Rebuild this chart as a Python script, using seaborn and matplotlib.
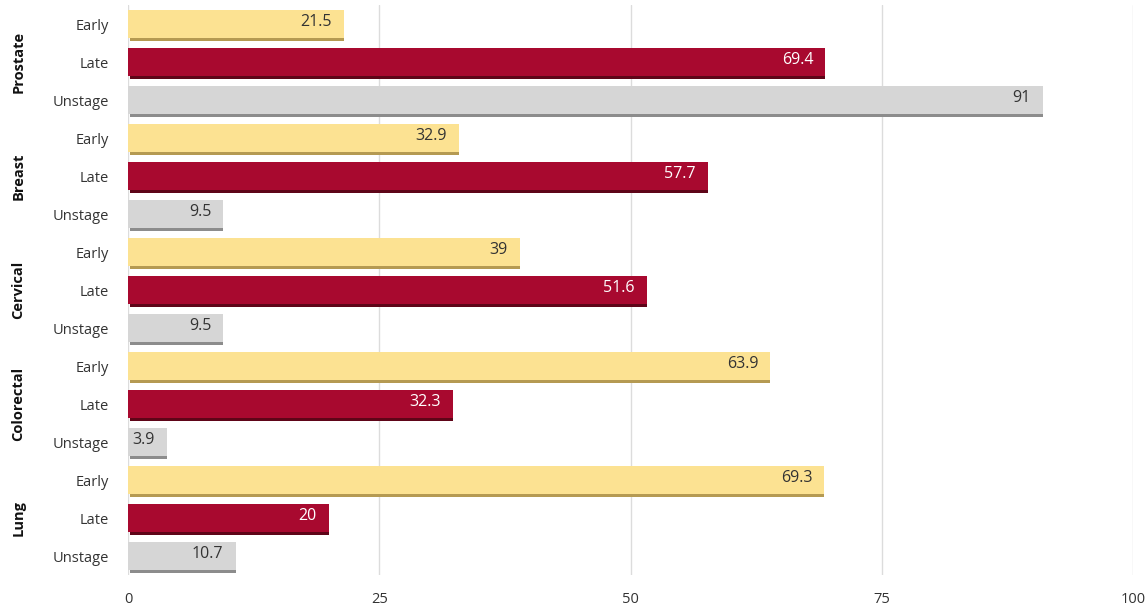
import matplotlib
matplotlib.use("Agg")
import matplotlib.pyplot as plt
import seaborn as sns
import pandas as pd
import numpy as np

cancers = ["Prostate", "Breast", "Cervical", "Colorectal", "Lung"]
stages = ["Early", "Late", "Unstage"]
early = [21.5, 32.9, 39, 63.9, 69.3]
late = [69.4, 57.7, 51.6, 32.3, 20]
unstage = [91, 9.5, 9.5, 3.9, 10.7]
x_ticks = [0, 25, 50, 75, 100]

colors = {"Early": "#FCE292", "Late": "#A8092F", "Unstage": "#D6D6D6"}
shadow = {"Early": "#B59A52", "Late": "#5E0518", "Unstage": "#8C8C8C"}
text_col = {"Early": "#333333", "Late": "#FFFFFF", "Unstage": "#333333"}

rows = []
for i, c in enumerate(cancers):
    for s, vals in zip(stages, [early, late, unstage]):
        rows.append({"row": f"{c}|{s}", "cancer": c, "stage": s, "value": vals[i]})
df = pd.DataFrame(rows)
order = list(df["row"])

sns.set_style("white")
plt.rcParams["font.family"] = ["Open Sans", "DejaVu Sans"]

fig = plt.figure(figsize=(11.45, 6.11), dpi=100)
ax = fig.add_axes([128 / 1145, 36 / 611, (1133 - 128) / 1145, 570 / 611])

# shadow bars (drawn first, offset downward)
ypos = np.arange(len(df))
for yi, (_, r) in zip(ypos, df.iterrows()):
    ax.barh(yi + 0.37, r["value"] - 0.2, left=0.2, height=0.15,
            color=shadow[r["stage"]], zorder=2, linewidth=0)

sns.barplot(data=df, x="value", y="row", hue="stage", order=order,
            hue_order=stages, palette=colors, dodge=False, width=0.74,
            legend=False, ax=ax, zorder=3, linewidth=0, saturation=1)

for yi, (_, r) in zip(ypos, df.iterrows()):
    ax.text(r["value"] - 1.2, yi - 0.04, f"{r['value']:g}", ha="right", va="center",
            fontsize=11.5, color=text_col[r["stage"]], zorder=5)

ax.set_xlim(0, 100)
ax.set_ylim(len(df) - 0.5, -0.5)
ax.set_xticks(x_ticks)
ax.set_xticklabels([str(t) for t in x_ticks], fontsize=10.5, color="#333333")
ax.set_yticks(ypos)
ax.set_yticklabels(list(df["stage"]), fontsize=10.5, color="#333333")
ax.tick_params(axis="x", length=7, width=1, color="#D4D4D4", pad=5)
ax.tick_params(axis="y", length=0, pad=14)
ax.xaxis.grid(True, color="#DCDCDC", linewidth=1, zorder=0)
ax.set_axisbelow(True)
for sp in ax.spines.values():
    sp.set_visible(False)
ax.set_xlabel("")
ax.set_ylabel("")

for i, c in enumerate(cancers):
    yc = i * 3 + 1
    ax.text(-0.109, yc, c, transform=ax.get_yaxis_transform(), rotation=90,
            ha="center", va="center", fontsize=10.5, fontweight="bold", color="#111111")

fig.savefig("out.png", dpi=100)
